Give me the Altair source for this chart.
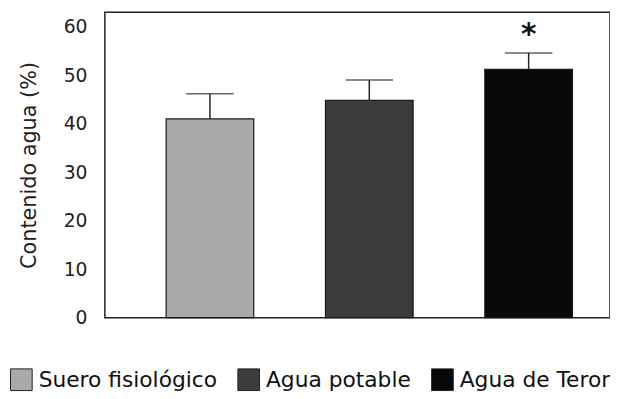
import altair as alt
import pandas as pd

groups = ["Suero fisiológico", "Agua potable", "Agua de Teror"]
means = [41.0, 44.8, 51.2]
upper = [46.2, 49.0, 54.6]
marks = ["", "", "*"]
colors = ["#a9a9a9", "#3c3c3c", "#080808"]
y_ticks = [0, 10, 20, 30, 40, 50, 60]

df = pd.DataFrame({"grupo": groups, "valor": means, "sup": upper, "sig": marks})

FONT = "DejaVu Sans"

x = alt.X("grupo:N", sort=groups, axis=None,
          scale=alt.Scale(paddingInner=0.45, paddingOuter=0.31, align=0.62))
yscale = alt.Scale(domain=[0, 63], nice=False, zero=True)

bars = alt.Chart(df).mark_bar(stroke="#1a1a1a", strokeWidth=1.2).encode(
    x=x,
    y=alt.Y("valor:Q", scale=yscale,
            axis=alt.Axis(values=y_ticks, title="Contenido agua (%)", grid=False,
                          ticks=False, domain=False, labelPadding=18,
                          labelFont=FONT, labelFontSize=19, labelColor="#222",
                          titleFont=FONT, titleFontSize=21, titleFontWeight="normal",
                          titleColor="#222", titlePadding=24)),
    color=alt.Color("grupo:N", sort=groups,
                    scale=alt.Scale(domain=groups, range=colors),
                    legend=alt.Legend(title=None, orient="none", direction="horizontal",
                                      legendX=-96, legendY=360, symbolType="square",
                                      symbolSize=480, symbolStrokeColor="#222",
                                      symbolStrokeWidth=1, symbolOpacity=1,
                                      labelFont=FONT, labelFontSize=22, labelColor="#111",
                                      labelOffset=6, columnPadding=18, labelLimit=300)),
)

err = alt.Chart(df).mark_rule(color="#222", strokeWidth=1.5).encode(
    x=x, y=alt.Y("valor:Q", scale=yscale), y2="sup:Q"
)
caps = alt.Chart(df).mark_tick(color="#222", size=48, thickness=1.5).encode(
    x=x, y=alt.Y("sup:Q", scale=yscale)
)
stars = alt.Chart(df).mark_text(font=FONT, fontSize=30, fontWeight="bold",
                                 baseline="alphabetic", dy=-9, color="#111").encode(
    x=x, y=alt.Y("sup:Q", scale=yscale), text="sig:N"
)

chart = alt.layer(bars, err, caps, stars).properties(
    width=511, height=309,
    autosize=alt.AutoSizeParams(type="none"),
    padding={"left": 98, "top": 2, "right": 0, "bottom": 80},
).configure(background="white").configure_view(stroke="#222", strokeWidth=1.5)

chart.save("out.html", embed_options={"renderer": "svg", "actions": False})
